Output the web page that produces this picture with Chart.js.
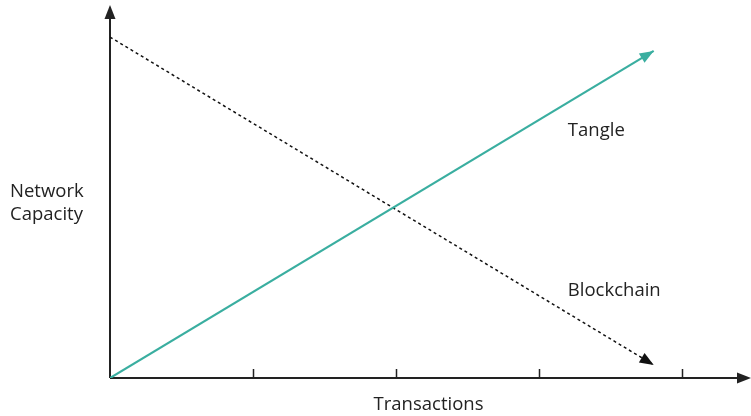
<!DOCTYPE html>
<html>
<head>
<meta charset="utf-8">
<script src="https://cdn.jsdelivr.net/npm/chart.js"></script>
<style>
  html, body { margin: 0; padding: 0; background: #fff; }
  #wrap { width: 751px; height: 416px; }
</style>
</head>
<body>
<div id="wrap"><canvas id="myChart" width="751" height="416"></canvas></div>
<script>
// data (x = transactions, y = network capacity, arbitrary units)
const tangleX = [0, 3.80];
const tangleY = [0, 8.77];
const blockchainX = [0, 3.80];
const blockchainY = [9.14, 0.35];
const xTicks = [1, 2, 3, 4];
const seriesNames = ["Tangle", "Blockchain"];
const xTitle = "Transactions";
const yTitle = ["Network", "Capacity"];

const teal = "#3aaea0";
const ink = "#222222";
const font = "18.5px 'Open Sans', Lato, sans-serif";

function arrowHead(ctx, x0, y0, x1, y1, len, half, color) {
  const a = Math.atan2(y1 - y0, x1 - x0);
  ctx.save();
  ctx.fillStyle = color;
  ctx.beginPath();
  ctx.moveTo(x1, y1);
  ctx.lineTo(x1 - len * Math.cos(a) + half * Math.sin(a), y1 - len * Math.sin(a) - half * Math.cos(a));
  ctx.lineTo(x1 - len * Math.cos(a) - half * Math.sin(a), y1 - len * Math.sin(a) + half * Math.cos(a));
  ctx.closePath();
  ctx.fill();
  ctx.restore();
}

const decor = {
  id: "decor",
  beforeDatasetsDraw(chart) {
    const ctx = chart.ctx;
    const xs = chart.scales.x, ys = chart.scales.y;
    const x0 = xs.getPixelForValue(0), y0 = ys.getPixelForValue(0);
    ctx.save();
    ctx.strokeStyle = ink;
    ctx.lineWidth = 2;
    ctx.beginPath();
    ctx.moveTo(x0, y0);
    ctx.lineTo(xs.right - 10, y0);
    ctx.moveTo(x0, y0);
    ctx.lineTo(x0, ys.top + 10);
    ctx.stroke();
    arrowHead(ctx, x0, y0, xs.right, y0, 14, 5.5, ink);
    arrowHead(ctx, x0, y0, x0, ys.top, 14, 5.5, ink);
    // tick marks sit above the axis
    ctx.lineWidth = 1.5;
    ctx.beginPath();
    xTicks.forEach(t => {
      const px = Math.round(xs.getPixelForValue(t)) + 0.5;
      ctx.moveTo(px, y0);
      ctx.lineTo(px, y0 - 9);
    });
    ctx.stroke();
    ctx.restore();
  },
  afterDatasetsDraw(chart) {
    const ctx = chart.ctx;
    const xs = chart.scales.x, ys = chart.scales.y;
    // arrowheads at the end of each series
    chart.data.datasets.forEach((ds, i) => {
      const pts = chart.getDatasetMeta(i).data;
      const a = pts[pts.length - 2], b = pts[pts.length - 1];
      arrowHead(ctx, a.x, a.y, b.x, b.y, 14, 5.5, ds.borderColor);
    });
    ctx.save();
    ctx.fillStyle = ink;
    ctx.font = font;
    ctx.textBaseline = "middle";
    ctx.textAlign = "left";
    ctx.fillText(seriesNames[0], xs.getPixelForValue(3.20), ys.getPixelForValue(6.62));
    ctx.fillText(seriesNames[1], xs.getPixelForValue(3.20), ys.getPixelForValue(2.33));
    ctx.fillText(yTitle[0], 10, 192);
    ctx.fillText(yTitle[1], 10, 215);
    ctx.textAlign = "center";
    ctx.fillText(xTitle, (xs.left + xs.right) / 2 - 2, 405);
    ctx.restore();
  }
};

new Chart(document.getElementById("myChart"), {
  type: "scatter",
  data: {
    datasets: [
      {
        label: seriesNames[0],
        data: tangleX.map((x, i) => ({ x: x, y: tangleY[i] })),
        showLine: true,
        borderColor: teal,
        borderWidth: 2.2,
        pointRadius: 0,
        borderCapStyle: "butt"
      },
      {
        label: seriesNames[1],
        data: blockchainX.map((x, i) => ({ x: x, y: blockchainY[i] })),
        showLine: true,
        borderColor: "#111111",
        borderWidth: 1.5,
        borderDash: [3, 3],
        pointRadius: 0
      }
    ]
  },
  options: {
    responsive: false,
    animation: false,
    layout: { padding: { left: 110, right: 0, top: 5, bottom: 38 } },
    plugins: { legend: { display: false }, tooltip: { enabled: false } },
    scales: {
      x: { type: "linear", display: false, min: 0, max: 4.48 },
      y: { type: "linear", display: false, min: 0, max: 10 }
    }
  },
  plugins: [decor]
});
</script>
</body>
</html>
